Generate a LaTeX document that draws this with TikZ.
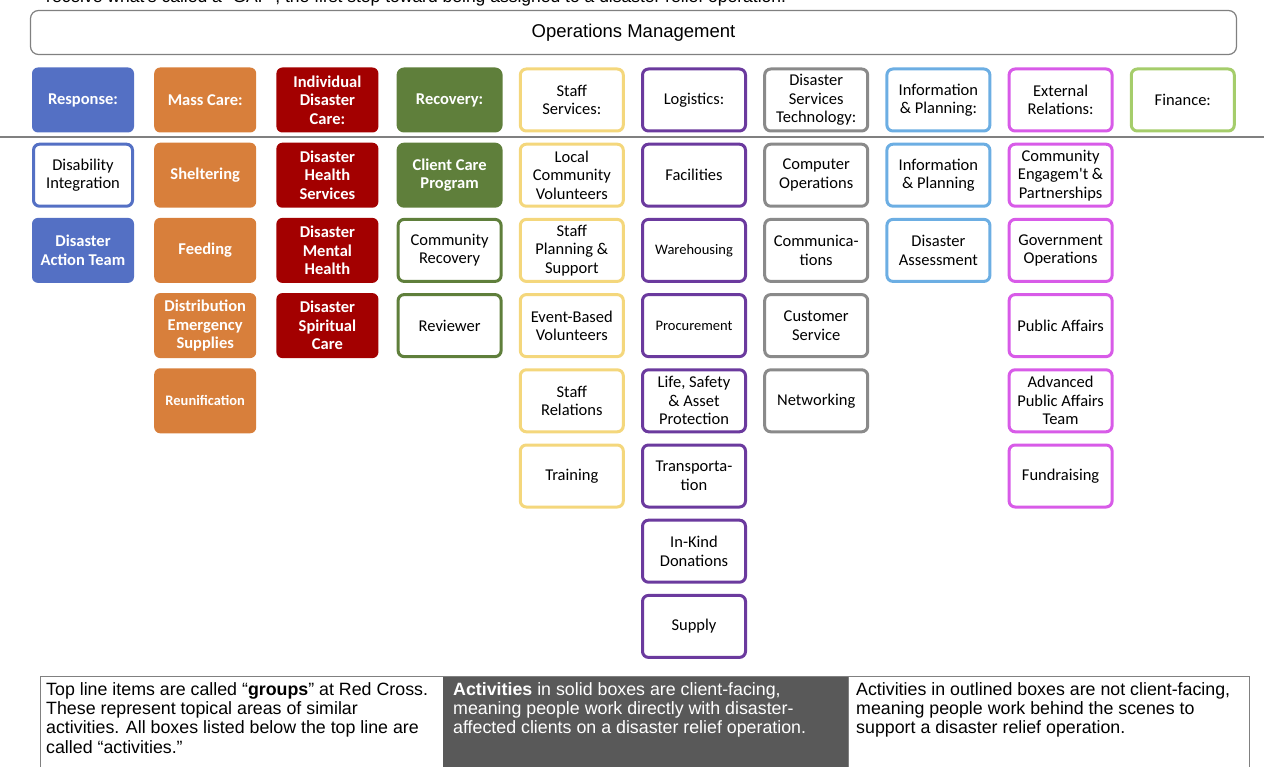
\documentclass[tikz,border=0pt]{standalone}
\usepackage{fontspec}
\setmainfont{Liberation Sans}
\newfontfamily\carlito{Carlito}
\usetikzlibrary{positioning}

\definecolor{respblue}{RGB}{84,112,196}
\definecolor{massorange}{RGB}{216,127,59}
\definecolor{idcred}{RGB}{163,0,0}
\definecolor{recgreen}{RGB}{95,127,59}
\definecolor{staffyellow}{RGB}{244,215,124}
\definecolor{logpurple}{RGB}{107,58,158}
\definecolor{dstgray}{RGB}{138,138,138}
\definecolor{ipblue}{RGB}{108,174,227}
\definecolor{ermagenta}{RGB}{216,91,232}
\definecolor{fingreen}{RGB}{165,205,107}
\definecolor{rulegray}{RGB}{128,128,128}
\definecolor{darkcell}{RGB}{89,89,89}

\begin{document}
\begin{tikzpicture}[x=1pt,y=-1pt,
  node distance=10.2pt and 20pt,
  box/.style={rounded corners=6pt,align=center,inner sep=1pt},
  full/.style={box,fill=#1,text=white,minimum width=102pt,minimum height=65pt,
    outer sep=0pt,font=\carlito\bfseries\fontsize{16.5}{18.5}\selectfont},
  fullwide/.style={full=#1,draw=#1,line width=3pt,minimum width=103pt,minimum height=62pt,outer sep=1.5pt},
  hollow/.style={box,draw=#1,line width=3pt,fill=white,text=black,
    minimum width=103pt,minimum height=62pt,font=\carlito\fontsize{16.5}{18.5}\selectfont},
  smallfull/.style={font=\carlito\bfseries\fontsize{14.5}{16}\selectfont},
  smallhollow/.style={font=\carlito\fontsize{14.5}{16}\selectfont},
  note/.style={anchor=north west,align=left,inner sep=0pt,font=\fontsize{17.8}{19.3}\selectfont}
]
\useasboundingbox (0,0) rectangle (1264,767);

% cut-off line of text above the chart
\node[anchor=base west,inner sep=0pt,font=\fontsize{17.5}{18.5}\selectfont] (intro) at (46,2.5)
  {receive what's called a “GAP”, the first step toward being assigned to a disaster relief operation.};

\node[draw=rulegray,line width=1.2pt,rounded corners=8pt,minimum width=1206pt,minimum height=44pt,
  font=\fontsize{18.5}{20}\selectfont] (ops) at (633.5,32.5) {Operations Management};

% groups
\node[full=respblue] (respH) at (83,100) {Response:};
\node[full=massorange] (massH) at (205.2,100) {Mass Care:};
\node[full=idcred] (idcH) at (327.4,100) {Individual\\Disaster\\Care:};
\node[fullwide=recgreen] (recH) at (449.6,100) {Recovery:};
\node[hollow=staffyellow] (staffH) at (571.8,100) {Staff\\Services:};
\node[hollow=logpurple] (logH) at (694,100) {Logistics:};
\node[hollow=dstgray] (dstH) at (816.2,100) {Disaster\\Services\\Technology:};
\node[hollow=ipblue] (ipH) at (938.4,100) {Information\\\& Planning:};
\node[hollow=ermagenta] (erH) at (1060.6,100) {External\\Relations:};
\node[hollow=fingreen] (finH) at (1182.8,100) {Finance:};

\draw[rulegray,line width=1.5pt] (0,137) -- (1264,137);

% activities
\node[hollow=respblue, minimum width=99pt, below=of respH] (respA) {Disability\\Integration};
\node[full=respblue, below=of respA] (respB) {Disaster\\Action Team};

\node[full=massorange, below=of massH] (massA) {Sheltering};
\node[full=massorange, below=of massA] (massB) {Feeding};
\node[full=massorange, below=of massB] (massC) {Distribution\\Emergency\\Supplies};
\node[full=massorange, smallfull, below=of massC] (massD) {Reunification};

\node[full=idcred, below=of idcH] (idcA) {Disaster\\Health\\Services};
\node[full=idcred, below=of idcA] (idcB) {Disaster\\Mental\\Health};
\node[full=idcred, below=of idcB] (idcC) {Disaster\\Spiritual\\Care};

\node[fullwide=recgreen, below=of recH] (recA) {Client Care\\Program};
\node[hollow=recgreen, below=of recA] (recB) {Community\\Recovery};
\node[hollow=recgreen, below=of recB] (recC) {Reviewer};

\node[hollow=staffyellow, below=of staffH] (staffA) {Local\\Community\\Volunteers};
\node[hollow=staffyellow, below=of staffA] (staffB) {Staff\\Planning \&\\Support};
\node[hollow=staffyellow, below=of staffB] (staffC) {Event-Based\\Volunteers};
\node[hollow=staffyellow, below=of staffC] (staffD) {Staff\\Relations};
\node[hollow=staffyellow, below=of staffD] (staffE) {Training};

\node[hollow=logpurple, below=of logH] (logA) {Facilities};
\node[hollow=logpurple, smallhollow, below=of logA] (logB) {Warehousing};
\node[hollow=logpurple, smallhollow, below=of logB] (logC) {Procurement};
\node[hollow=logpurple, below=of logC] (logD) {Life, Safety\\\& Asset\\Protection};
\node[hollow=logpurple, below=of logD] (logE) {Transporta-\\tion};
\node[hollow=logpurple, below=of logE] (logF) {In-Kind\\Donations};
\node[hollow=logpurple, below=of logF] (logG) {Supply};

\node[hollow=dstgray, below=of dstH] (dstA) {Computer\\Operations};
\node[hollow=dstgray, below=of dstA] (dstB) {Communica-\\tions};
\node[hollow=dstgray, below=of dstB] (dstC) {Customer\\Service};
\node[hollow=dstgray, below=of dstC] (dstD) {Networking};

\node[hollow=ipblue, below=of ipH] (ipA) {Information\\\& Planning};
\node[hollow=ipblue, below=of ipA] (ipB) {Disaster\\Assessment};

\node[hollow=ermagenta, below=of erH] (erA) {Community\\Engagem't \&\\Partnerships};
\node[hollow=ermagenta, below=of erA] (erB) {Government\\Operations};
\node[hollow=ermagenta, below=of erB] (erC) {Public Affairs};
\node[hollow=ermagenta, below=of erC] (erD) {Advanced\\Public Affairs\\Team};
\node[hollow=ermagenta, below=of erD] (erE) {Fundraising};

% legend table
\fill[darkcell] (443,676) rectangle (848,780);
\draw[rulegray,line width=1pt] (40,676) rectangle (1249,780);
\draw[rulegray,line width=1pt] (848,676) -- (848,780);

\node[note] (legA) at (46,682) {Top line items are called “\textbf{groups}” at Red Cross.\\
  These represent topical areas of similar\\
  activities. All boxes listed below the top line are\\
  called “activities.”};
\node[note,text=white] (legB) at (453,682) {\textbf{Activities} in solid boxes are client-facing,\\
  meaning people work directly with disaster-\\
  affected clients on a disaster relief operation.};
\node[note] (legC) at (856,682) {Activities in outlined boxes are not client-facing,\\
  meaning people work behind the scenes to\\
  support a disaster relief operation.};
\end{tikzpicture}
\end{document}
